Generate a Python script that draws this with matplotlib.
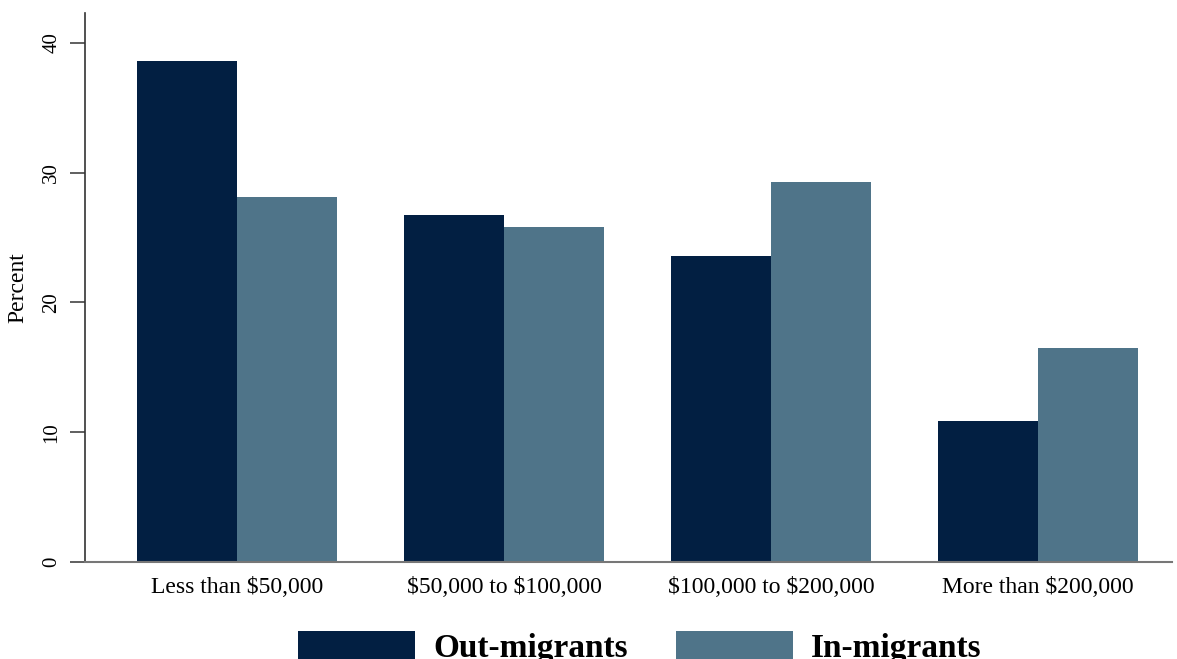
import numpy as np
import matplotlib
matplotlib.use("Agg")
import matplotlib.pyplot as plt

# ------------------------------------------------------------
# Data
# ------------------------------------------------------------
categories = ["Less than \\$50,000", "\\$50,000 to \\$100,000",
              "\\$100,000 to \\$200,000", "More than \\$200,000"]
out_migrants = [38.6, 26.7, 23.6, 10.9]
in_migrants = [28.1, 25.8, 29.3, 16.5]
yticks = [0, 10, 20, 30, 40]

dark = "#021f42"
light = "#4f7489"

plt.rcParams["font.family"] = ["Liberation Serif", "DejaVu Serif"]

fig = plt.figure(figsize=(11.77, 6.59), dpi=100)
ax = fig.add_axes([0.0722, 0.1472, 0.9236, 0.833])

x = np.arange(len(categories))
w = 0.375
b1 = ax.bar(x - w / 2, out_migrants, width=w, color=dark, label="Out-migrants")
b2 = ax.bar(x + w / 2, in_migrants, width=w, color=light, label="In-migrants")

ax.set_xlim(-0.569, 3.502)
ax.set_ylim(0, 42.3)
ax.set_yticks(yticks)
ax.set_yticklabels([str(t) for t in yticks], rotation=90, va="center", fontsize=15)
ax.set_xticks(x)
ax.set_xticklabels(categories, fontsize=17)
ax.tick_params(axis="x", length=0, pad=11)
ax.tick_params(axis="y", length=11, width=1.2, color="#444444", pad=6)
ax.set_ylabel("Percent", fontsize=17, labelpad=10)

for s in ["top", "right"]:
    ax.spines[s].set_visible(False)
ax.spines["left"].set_color("#333333")
ax.spines["left"].set_linewidth(1.2)
ax.spines["bottom"].set_color("#777777")
ax.spines["bottom"].set_linewidth(1.5)

fig.legend(handles=[b1, b2], loc="upper center", bbox_to_anchor=(0.5437, 0.068),
           ncol=2, frameon=False, handlelength=3.5, handleheight=1.0,
           handletextpad=0.55, columnspacing=1.45, borderpad=0,
           prop={"family": ["Liberation Serif"], "size": 24, "weight": "bold"})

fig.savefig("out.png", dpi=100)
